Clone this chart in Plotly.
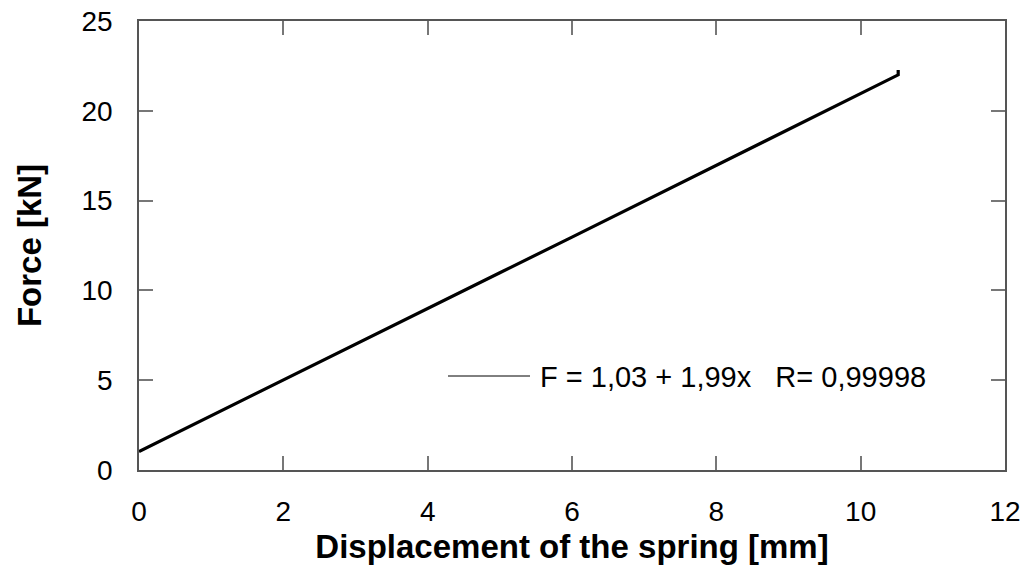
import plotly.graph_objects as go

# Measured force-displacement curve of the spring
displacement_mm = [0.0, 0.5, 1.0, 2.0, 3.0, 4.0, 5.0, 6.0, 7.0, 8.0, 9.0, 10.0, 10.5, 10.52, 10.52]
force_kN = [1.03, 2.02, 3.02, 5.01, 7.0, 8.99, 10.98, 12.97, 14.96, 16.95, 18.94, 20.93, 21.93, 22.0, 22.27]

x_ticks = [0, 2, 4, 6, 8, 10, 12]
y_ticks = [0, 5, 10, 15, 20, 25]

fit_label = "F = 1,03 + 1,99x   R= 0,99998"

FONT = "Liberation Sans, Arial, sans-serif"

fig = go.Figure()
fig.add_trace(go.Scatter(
    x=displacement_mm, y=force_kN, mode="lines",
    line=dict(color="black", width=3.2), showlegend=False,
))

axis_common = dict(
    showgrid=False, zeroline=False, showline=True, mirror="ticks",
    linecolor="#555", linewidth=1.5, automargin=False,
    ticks="inside", ticklen=14, tickwidth=1.5, tickcolor="#777",
    tickfont=dict(family=FONT, size=28, color="black"),
)

fig.update_xaxes(
    range=[0, 12], tickvals=x_ticks, ticklabelstandoff=16,
    title=dict(text="<b>Displacement of the spring [mm]</b>",
               font=dict(family=FONT, size=33, color="black"), standoff=9),
    **axis_common,
)
fig.update_yaxes(
    range=[0, 25], tickvals=y_ticks, ticklabelstandoff=19,
    title=dict(text="<b>Force [kN]</b>",
               font=dict(family=FONT, size=33, color="black"), standoff=30),
    **axis_common,
)

# Legend entry for the linear fit
fig.add_shape(type="line", xref="paper", yref="paper",
              x0=(448 - 139) / 866, x1=(530 - 139) / 866,
              y0=(470 - 376) / 449, y1=(470 - 376) / 449,
              line=dict(color="black", width=1))
fig.add_annotation(xref="paper", yref="paper",
                   x=(538 - 139) / 866, y=(470 - 377) / 449,
                   xanchor="left", yanchor="middle", showarrow=False,
                   text=fit_label, font=dict(family=FONT, size=29, color="black"))

fig.update_layout(
    width=1025, height=573,
    margin=dict(l=139, r=20, t=21, b=103),
    paper_bgcolor="white", plot_bgcolor="white",
)

fig.write_html("out.html")
